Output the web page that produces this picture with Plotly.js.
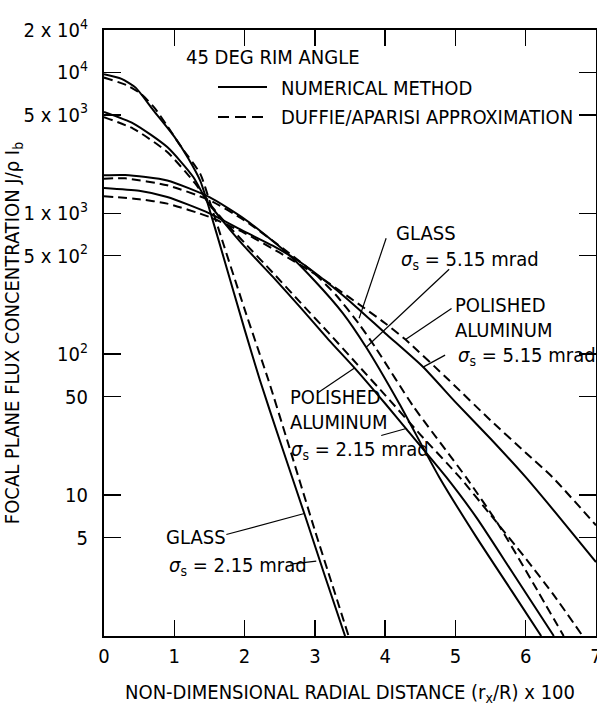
<!DOCTYPE html>
<html>
<head>
<meta charset="utf-8">
<script src="https://cdn.plot.ly/plotly-3.0.1.min.js"></script>
<style>
html,body{margin:0;padding:0;background:#fff;}
#chart{width:597px;height:706px;}
</style>
</head>
<body>
<div id="chart"></div>
<script>
// ---------- data ----------
// Glass, sigma_s = 2.15 mrad
const xGlass215Num = [0, 0.25, 0.45, 0.7, 1.0, 1.2, 1.37, 1.5, 1.7, 2.0, 2.22, 2.5, 2.85, 3.15, 3.43];
const yGlass215Num = [9700, 9000, 7800, 5400, 3500, 2450, 1700, 1070, 490, 150, 65, 24.5, 7.4, 2.6, 1.0];
const xGlass215App = [0, 0.33, 0.52, 0.71, 0.9, 1.1, 1.37, 1.5, 1.7, 2.0, 2.34, 2.6, 3.0, 3.25, 3.48];
const yGlass215App = [9190, 8090, 7080, 5675, 4170, 2950, 1905, 1230, 603, 209, 65.3, 25.1, 5.62, 2.29, 1.0];
// Polished aluminum, sigma_s = 2.15 mrad
const xAlum215Num = [0, 0.42, 0.9, 1.27, 1.46, 1.7, 2.0, 2.4, 2.79, 3.2, 3.57, 4.0, 4.3, 4.87, 5.3, 5.8, 6.4];
const yAlum215Num = [5240, 4335, 2951, 1811, 1230, 870, 580, 355, 216, 126, 79.4, 44.7, 29.5, 13.4, 6.92, 2.88, 1.0];
const xAlum215App = [0, 0.42, 0.9, 1.3, 1.5, 1.7, 2.0, 2.4, 2.79, 3.2, 3.6, 4.0, 4.5, 5.06, 5.5, 6.0, 6.4, 6.81];
const yAlum215App = [4820, 3981, 2723, 1622, 1175, 891, 617, 380, 234, 141, 85.1, 51.3, 26.9, 13.4, 7.24, 3.55, 1.95, 1.0];
// Glass, sigma_s = 5.15 mrad
const xGlass515Num = [0, 0.3, 0.9, 1.5, 2.0, 2.6, 3.0, 3.4, 3.73, 4.2, 4.77, 5.3, 5.8, 6.22];
const yGlass515Num = [1862, 1871, 1710, 1303, 912, 525, 331, 195, 112, 44.7, 13.4, 5.01, 2.09, 1.0];
const xGlass515App = [0, 0.3, 0.9, 1.5, 2.0, 2.6, 3.0, 3.3, 3.62, 3.87, 4.4, 5.15, 5.6, 6.1, 6.54];
const yGlass515App = [1762, 1770, 1581, 1239, 891, 537, 372, 263, 166, 110, 42.7, 13.4, 6.31, 2.40, 1.0];
// Polished aluminum, sigma_s = 5.15 mrad
const xAlum515Num = [0, 0.5, 0.9, 1.5, 2.0, 2.4, 2.79, 3.2, 3.6, 4.0, 4.54, 5.0, 5.5, 6.0, 6.5, 7.0];
const yAlum515Num = [1514, 1445, 1306, 1000, 741, 589, 451, 316, 214, 141, 81.1, 45.7, 25.1, 13.4, 6.76, 3.35];
const xAlum515App = [0, 0.5, 0.9, 1.5, 2.0, 2.5, 3.07, 3.5, 4.0, 4.29, 4.91, 5.5, 6.0, 6.38, 7.0];
const yAlum515App = [1321, 1259, 1172, 942, 724, 525, 353, 251, 166, 127, 65.3, 33.9, 20.0, 13.4, 6.11];

// axis ticks
const xTickVals = [0, 1, 2, 3, 4, 5, 6, 7];
const xTickText = ['0', '1', '2', '3', '4', '5', '6', '7'];
const yTickVals = [5, 10, 50, 100, 500, 1000, 5000, 10000, 20000];
const yTickText = ['5', '10', '50', '10<sup>2</sup>', '5 x 10<sup>2</sup>', '1 x 10<sup>3</sup>',
                   '5 x 10<sup>3</sup>', '10<sup>4</sup>', '2 x 10<sup>4</sup>'];

// ---------- drawing ----------
const FONT = "DejaVu Sans Condensed, DejaVu Sans, sans-serif";
const W = 597, H = 706, M = {l: 104, r: 1, t: 30, b: 70};
const PW = W - M.l - M.r, PH = H - M.t - M.b;
const XR = [0, 7], YR = [0, Math.log10(20000)];
const px = v => (v - M.l) / PW;          // pixel -> paper x
const py = v => (H - M.b - v) / PH;      // pixel -> paper y
const dx = x => (x - XR[0]) / (XR[1] - XR[0]);                 // data -> paper x
const dy = y => (Math.log10(y) - YR[0]) / (YR[1] - YR[0]);     // data -> paper y (log axis)

function curve(x, y, dashed, name) {
  return {
    x: x, y: y, type: 'scatter', mode: 'lines', name: name, showlegend: false,
    line: {color: '#000', width: 2, dash: dashed ? '9px,5px' : 'solid', shape: 'spline', smoothing: 0.6},
    hoverinfo: 'skip'
  };
}

const traces = [
  curve(xGlass215Num, yGlass215Num, false, 'Glass 2.15 numerical'),
  curve(xGlass215App, yGlass215App, true,  'Glass 2.15 Duffie/Aparisi'),
  curve(xAlum215Num, yAlum215Num, false, 'Polished Al 2.15 numerical'),
  curve(xAlum215App, yAlum215App, true,  'Polished Al 2.15 Duffie/Aparisi'),
  curve(xGlass515Num, yGlass515Num, false, 'Glass 5.15 numerical'),
  curve(xGlass515App, yGlass515App, true,  'Glass 5.15 Duffie/Aparisi'),
  curve(xAlum515Num, yAlum515Num, false, 'Polished Al 5.15 numerical'),
  curve(xAlum515App, yAlum515App, true,  'Polished Al 5.15 Duffie/Aparisi')
];

const tf = {family: FONT, size: 20, color: '#000'};
function label(text, x, y) {
  return {text: text, xref: 'paper', yref: 'paper', x: px(x), y: py(y),
          xanchor: 'left', yanchor: 'middle', showarrow: false, font: tf};
}
// leader line: tip on a curve (data coords), tail offset in pixels
function leader(xd, yd, ox, oy) {
  const x1 = dx(xd), y1 = dy(yd);
  return {type: 'line', xref: 'paper', yref: 'paper',
          x0: x1 + ox / PW, y0: y1 - oy / PH, x1: x1, y1: y1,
          line: {color: '#000', width: 1.2}};
}
const sig = v => '<i>σ</i><sub>s</sub> = ' + v + ' mrad';

const annotations = [
  label('45 DEG RIM ANGLE', 184, 57),
  label('NUMERICAL METHOD', 279, 88),
  label('DUFFIE/APARISI APPROXIMATION', 279, 117),
  label('GLASS', 394, 233),
  label(sig('5.15'), 399, 260),
  label('POLISHED', 453, 305),
  label('ALUMINUM', 453, 330),
  label(sig('5.15'), 456, 356),
  label('POLISHED', 288, 397),
  label('ALUMINUM', 288, 422),
  label(sig('2.15'), 289, 450),
  label('GLASS', 164, 537),
  label(sig('2.15'), 167, 566)
];

const shapes = [
  {type: 'line', xref: 'paper', yref: 'paper', x0: px(218), x1: px(267), y0: py(87), y1: py(87),
   line: {color: '#000', width: 2}},
  {type: 'line', xref: 'paper', yref: 'paper', x0: px(218), x1: px(267), y0: py(117), y1: py(117),
   line: {color: '#000', width: 2, dash: '11px,6px'}},
  leader(2.85, 7.4, -78, 21),
  leader(3.02, 3.4, -26, 3),
  leader(3.57, 80, -37, 25),
  leader(4.30, 29.7, -25, 7),
  leader(3.63, 180, 27, -80),
  leader(3.73, 112, 83, -78),
  leader(4.29, 127, 46, -31),
  leader(4.54, 81, 22, -12)
];

const layout = {
  width: W, height: H, margin: M,
  paper_bgcolor: '#fff', plot_bgcolor: '#fff',
  showlegend: false,
  font: {family: FONT, size: 20, color: '#000'},
  xaxis: {
    range: XR, tickvals: xTickVals, ticktext: xTickText,
    ticks: 'inside', ticklen: 16, tickwidth: 1.5, tickcolor: '#000',
    showline: true, linewidth: 2, linecolor: '#000', mirror: 'ticks',
    showgrid: false, zeroline: false, tickfont: tf, ticklabelstandoff: 1,
    ticklabeloverflow: 'allow',
    title: {text: 'NON-DIMENSIONAL RADIAL DISTANCE (r<sub>x</sub>/R) x 100', font: tf, standoff: 19},
    automargin: false
  },
  yaxis: {
    type: 'log', range: YR, tickvals: yTickVals, ticktext: yTickText,
    ticks: 'inside', ticklen: 17, tickwidth: 1.5, tickcolor: '#000',
    showline: true, linewidth: 2, linecolor: '#000', mirror: 'ticks',
    showgrid: false, zeroline: false, tickfont: tf, ticklabelstandoff: 10,
    ticklabeloverflow: 'allow',
    title: {text: 'FOCAL PLANE FLUX CONCENTRATION J/ρ I<sub>b</sub>', font: tf, standoff: 3},
    automargin: false
  },
  annotations: annotations,
  shapes: shapes
};

Plotly.newPlot('chart', traces, layout, {staticPlot: true, displayModeBar: false});
</script>
</body>
</html>
